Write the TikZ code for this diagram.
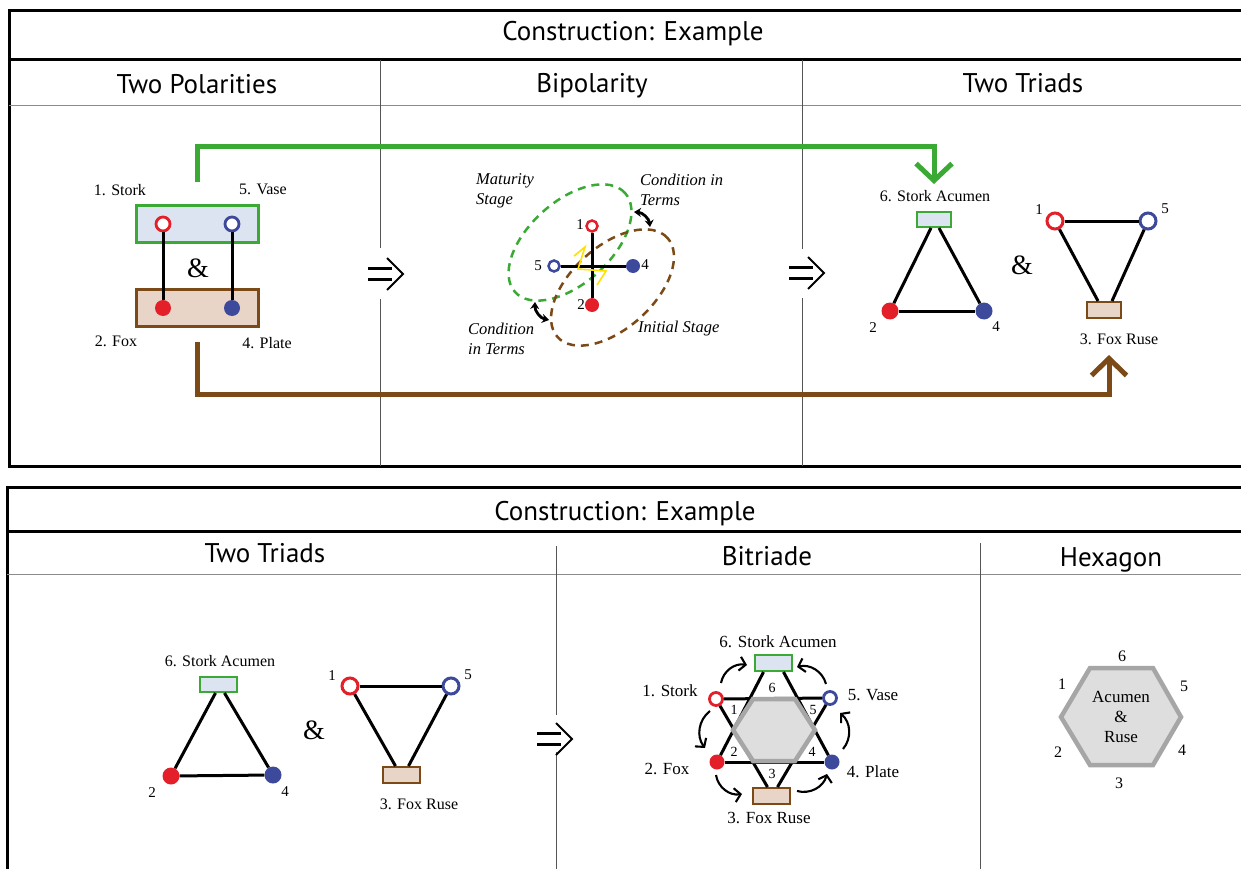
\documentclass[tikz,border=0pt]{standalone}
\usepackage{fontspec}
\setmainfont{Liberation Serif}
\newfontfamily\hdfont{PT Sans}
\usetikzlibrary{arrows.meta,calc}
\definecolor{cgreen}{HTML}{3AAA35}
\definecolor{cbluefill}{HTML}{DCE3F1}
\definecolor{cbrown}{HTML}{7B4A16}
\definecolor{cbrownfill}{HTML}{E8D5C7}
\definecolor{cred}{HTML}{E3202A}
\definecolor{cblue}{HTML}{3D4A9C}
\definecolor{chexline}{HTML}{A6A6A6}
\definecolor{chexfill}{HTML}{DEDEDE}
\definecolor{cyellow}{HTML}{FFE100}
\definecolor{cdiv}{HTML}{555555}
\definecolor{cgrayline}{HTML}{8C8C8C}
\tikzset{dblarrow/.pic={
  \draw[line width=2.8pt] (-18,-5.5) -- (6,-5.5) (-18,5.5) -- (6,5.5);
  \draw[line width=1.9pt] (1,-16) -- (17,0) -- (1,16);
}}
\begin{document}
\begin{tikzpicture}[x=1pt,y=-1pt,
  frameline/.style={line width=3pt,black},
  divline/.style={line width=1pt,cdiv},
  sepline/.style={line width=1pt,cgrayline},
  hd/.style={font=\hdfont\fontsize{27}{30}\selectfont,inner sep=0pt,text height=19pt,text depth=0pt},
  lab/.style={font=\fontsize{16}{18}\selectfont,inner sep=0pt},
  labb/.style={font=\fontsize{17}{19}\selectfont,inner sep=0pt},
  itl/.style={font=\fontsize{16.5}{20}\selectfont\itshape,inner sep=0pt,align=left,anchor=west},
  num/.style={font=\fontsize{15}{17}\selectfont,inner sep=0pt},
  nums/.style={font=\fontsize{14}{16}\selectfont,inner sep=0pt},
  amp/.style={font=\fontsize{28}{30}\selectfont,inner sep=0pt},
  openR/.style={circle,draw=cred,fill=white,line width=2.8pt,minimum size=14pt,inner sep=0pt},
  openB/.style={circle,draw=cblue,fill=white,line width=2.8pt,minimum size=14pt,inner sep=0pt},
  fullR/.style={circle,fill=cred,minimum size=16pt,inner sep=0pt},
  fullB/.style={circle,fill=cblue,minimum size=16pt,inner sep=0pt},
  gbox/.style={draw=cgreen,fill=cbluefill,line width=2pt,inner sep=0pt},
  bbox/.style={draw=cbrown,fill=cbrownfill,line width=2pt,inner sep=0pt},
  lnk/.style={line width=3pt,black},
  gpath/.style={line width=5pt,cgreen,-{Straight Barb[length=17pt,width=36pt]}},
  bpath/.style={line width=5pt,cbrown,-{Straight Barb[length=17pt,width=35pt]}},
  flowarr/.style={line width=2.1pt,-{Straight Barb[length=6pt,width=14pt]}},
  twoway/.style={line width=2.8pt,{Stealth[length=7pt,width=9pt]}-{Stealth[length=7pt,width=9pt]}},
  dashell/.style={line width=2.5pt,dash pattern=on 8pt off 6pt},
  hexa/.style={draw=chexline,fill=chexfill,line width=4.5pt,line join=miter},
]
\useasboundingbox (0,0) rectangle (1241,869);
\fill[white] (0,0) rectangle (1241,869);

%================ TOP PANEL =================
\draw[frameline] (1246,11) -- (9,11) -- (9,466) -- (1246,466);
\draw[frameline] (9,60) -- (1246,60);
\draw[sepline] (9,106) -- (1246,106);
\draw[divline] (380,60) -- (380,248) (380,299) -- (380,466);
\draw[divline] (802,60) -- (802,249) (802,298) -- (802,466);
\node[hd] (ttitle) at (633,31) {Construction: Example};
\node[hd] (th1) at (197,84) {Two Polarities};
\node[hd] (th2) at (592,83) {Bipolarity};
\node[hd] (th3) at (1023,83) {Two Triads};

% --- Two Polarities
\node[gbox,line width=3pt,minimum width=122pt,minimum height=37pt] (pg) at (197.5,224) {};
\node[bbox,line width=3pt,minimum width=122pt,minimum height=37pt] (pb) at (197.5,308) {};
\node[openR] (p1) at (163,224) {};
\node[openB] (p5) at (232,224) {};
\node[fullR] (p2) at (163,308) {};
\node[fullB] (p4) at (232,308) {};
\draw[lnk] (p1) -- (p2);
\draw[lnk] (p5) -- (p4);
\node[lab] (pl1) at (120,190) {1. Stork};
\node[lab] (pl5) at (263,189) {5. Vase};
\node[lab] (pl2) at (116,341) {2. Fox};
\node[lab] (pl4) at (267,343) {4. Plate};
\node[amp] (pamp) at (198,268) {\&};

% --- long connectors
\coordinate (gs) at (197,182);
\coordinate (ge) at (934,184);
\draw[gpath] (gs) -- ++(0,-35) -| (ge);
\coordinate (bs) at (197,342);
\coordinate (be) at (1109,355);
\draw[bpath] (bs) -- ++(0,52) -| (be);

\pic at (386,274) {dblarrow};
\pic at (807,273) {dblarrow};

% --- Bipolarity
\draw[dashell,cgreen,rotate around={42:(570,242.5)}] (570,242.5) ellipse [x radius=74pt,y radius=41pt];
\draw[dashell,cbrown,rotate around={42:(612.5,287.5)}] (612.5,287.5) ellipse [x radius=74pt,y radius=41pt];
\node[openR,minimum size=11pt,line width=2.5pt] (b1) at (592,226) {};
\node[fullR,minimum size=14pt] (b2) at (592,305) {};
\node[openB,minimum size=11pt,line width=2.5pt] (b5) at (554,266) {};
\node[fullB,minimum size=14pt] (b4) at (633,266) {};
\draw[lnk] (b1) -- (b2);
\draw[lnk] (b5) -- (b4);
\draw[cyellow,line width=1.6pt,line join=miter] (574,256) -- (585,247) -- (578,269) -- (606,271) -- (597,285);
\node[num] (bn1) at (580,225) {1};
\node[num] (bn2) at (581,305) {2};
\node[num] (bn5) at (538,266) {5};
\node[num] (bn4) at (645,265) {4};
\coordinate (da1) at (634,212); \coordinate (da2) at (650,227);
\draw[twoway] (da1) to[bend left=40] (da2);
\coordinate (db1) at (535,302); \coordinate (db2) at (549,320);
\draw[twoway] (db1) to[bend right=40] (db2);
\node[itl] (m1) at (476,191) {Maturity\\Stage};
\node[itl] (m2) at (640,190) {Condition in\\Terms};
\node[itl] (m3) at (468,339) {Condition\\in Terms};
\node[itl] (m4) at (638,329) {Initial Stage};

% --- Two Triads (top)
\node[gbox,minimum width=34pt,minimum height=15pt] (t6) at (934,219.5) {};
\node[fullR,minimum size=17pt] (t2) at (890,311) {};
\node[fullB,minimum size=17pt] (t4) at (984,311) {};
\draw[lnk] ($(t6.south)+(-3,0)$) -- (t2);
\draw[lnk] ($(t6.south)+(5,0)$) -- (t4);
\draw[lnk] (t2) -- (t4);
\node[lab] (tl6) at (935,196) {6. Stork Acumen};
\node[num] (tn2) at (873,328) {2};
\node[num] (tn4) at (996,327) {4};
\node[amp] (tamp) at (1022,265) {\&};
\node[openR,minimum size=16pt,line width=3pt] (t1) at (1055,221) {};
\node[openB,minimum size=16pt,line width=3pt] (t5) at (1148,221) {};
\node[bbox,minimum width=34pt,minimum height=16pt] (t3) at (1104,310) {};
\draw[lnk] (t1) -- (t5);
\draw[lnk] (t1) -- ($(t3.north)+(-6,0)$);
\draw[lnk] (t5) -- ($(t3.north)+(8,0)$);
\node[num] (tn1) at (1039,210) {1};
\node[num] (tn5) at (1165,209) {5};
\node[lab] (tl3) at (1119,339) {3. Fox Ruse};

%================ BOTTOM PANEL =================
\draw[frameline] (1246,487) -- (7,487) -- (7,872);
\draw[frameline] (7,531) -- (1246,531);
\draw[sepline] (7,574) -- (1246,574);
\draw[divline] (556,546) -- (556,715) (556,752) -- (556,872);
\draw[divline] (980,543) -- (980,872);
\node[hd] (btitle) at (625,511) {Construction: Example};
\node[hd] (bh1) at (265,553) {Two Triads};
\node[hd] (bh2) at (767,556) {Bitriade};
\node[hd] (bh3) at (1111,557) {Hexagon};

% --- Two Triads (bottom)
\node[gbox,minimum width=37pt,minimum height=15pt] (u6) at (218.5,684.5) {};
\node[fullR,minimum size=17pt] (u2) at (171,776) {};
\node[fullB,minimum size=17pt] (u4) at (273,775) {};
\draw[lnk] ($(u6.south)+(-3,0)$) -- (u2);
\draw[lnk] ($(u6.south)+(6,0)$) -- (u4);
\draw[lnk] (u2) -- (u4);
\node[lab] (ul6) at (220,661) {6. Stork Acumen};
\node[num] (un2) at (152,793) {2};
\node[num] (un4) at (285,792) {4};
\node[amp] (uamp) at (314,730) {\&};
\node[openR,minimum size=16pt,line width=3pt] (u1) at (350,686) {};
\node[openB,minimum size=16pt,line width=3pt] (u5) at (451,686) {};
\node[bbox,minimum width=37pt,minimum height=16pt] (u3) at (401.5,775) {};
\draw[lnk] (u1) -- (u5);
\draw[lnk] (u1) -- ($(u3.north)+(-6,0)$);
\draw[lnk] (u5) -- ($(u3.north)+(7,0)$);
\node[num] (un1) at (332,676) {1};
\node[num] (un5) at (468,675) {5};
\node[lab] (ul3) at (419,804) {3. Fox Ruse};

\pic at (555,739) {dblarrow};

% --- Bitriade
\node[gbox,minimum width=37pt,minimum height=16pt] (w6) at (773.5,663) {};
\node[openR,minimum size=13pt] (w1) at (716,699) {};
\node[openB,minimum size=13pt] (w5) at (830,698) {};
\node[fullR,minimum size=15pt] (w2) at (717,762) {};
\node[fullB,minimum size=15pt] (w4) at (832,762) {};
\node[bbox,minimum width=37pt,minimum height=16pt] (w3) at (771.5,796) {};
\draw[lnk] ($(w6.south)+(-10,0)$) -- (w2);
\draw[lnk] ($(w6.south)+(10,0)$) -- (w4);
\draw[lnk] (w2) -- (w4);
\draw[lnk] (w1) -- (w5);
\draw[lnk] (w1) -- ($(w3.north)+(-4,0)$);
\draw[lnk] (w5) -- ($(w3.north)+(6,0)$);
\coordinate (hA) at (753,699); \coordinate (hB) at (795,699); \coordinate (hC) at (815,730);
\coordinate (hD) at (795,761); \coordinate (hE) at (753,761); \coordinate (hF) at (733,730);
\draw[hexa] (hA) -- (hB) -- (hC) -- (hD) -- (hE) -- (hF) -- cycle;
\node[labb] (wl6) at (778,642) {6. Stork Acumen};
\node[labb] (wl1) at (670,691) {1. Stork};
\node[labb] (wl5) at (873,695) {5. Vase};
\node[labb] (wl2) at (667,769) {2. Fox};
\node[labb] (wl4) at (873,772) {4. Plate};
\node[labb] (wl3) at (769,818) {3. Fox Ruse};
\node[nums] (wn6) at (772,688) {6};
\node[nums] (wn1) at (734,710) {1};
\node[nums] (wn5) at (813,710) {5};
\node[nums] (wn2) at (734,752) {2};
\node[nums] (wn4) at (812,752) {4};
\node[nums] (wn3) at (772,774) {3};
\coordinate (fa1) at (721,683); \coordinate (fa2) at (747,665);
\draw[flowarr] (fa1) to[bend left=45] (fa2);
\coordinate (fb1) at (826,684); \coordinate (fb2) at (797,667);
\draw[flowarr] (fb1) to[bend right=45] (fb2);
\coordinate (fc1) at (843,749); \coordinate (fc2) at (840,713);
\draw[flowarr] (fc1) to[bend right=45] (fc2);
\coordinate (fd1) at (797,791); \coordinate (fd2) at (827,774);
\draw[flowarr] (fd1) to[bend right=45] (fd2);
\coordinate (fe1) at (716,775); \coordinate (fe2) at (742,794);
\draw[flowarr] (fe1) to[bend right=45] (fe2);
\coordinate (ff1) at (710,711); \coordinate (ff2) at (705,748);
\draw[flowarr] (ff1) to[bend right=45] (ff2);

% --- Hexagon
\coordinate (xA) at (1090,668); \coordinate (xB) at (1153,668); \coordinate (xC) at (1181,717);
\coordinate (xD) at (1153,765); \coordinate (xE) at (1090,765); \coordinate (xF) at (1061,717);
\draw[hexa] (xA) -- (xB) -- (xC) -- (xD) -- (xE) -- (xF) -- cycle;
\node[labb,align=center,font=\fontsize{17}{20}\selectfont] (xt) at (1121,717) {Acumen\\\&\\Ruse};
\node[lab] (xn6) at (1122,656) {6};
\node[lab] (xn1) at (1062,684) {1};
\node[lab] (xn5) at (1184,686) {5};
\node[lab] (xn2) at (1058,752) {2};
\node[lab] (xn4) at (1182,750) {4};
\node[lab] (xn3) at (1119,783) {3};
\end{tikzpicture}
\end{document}
